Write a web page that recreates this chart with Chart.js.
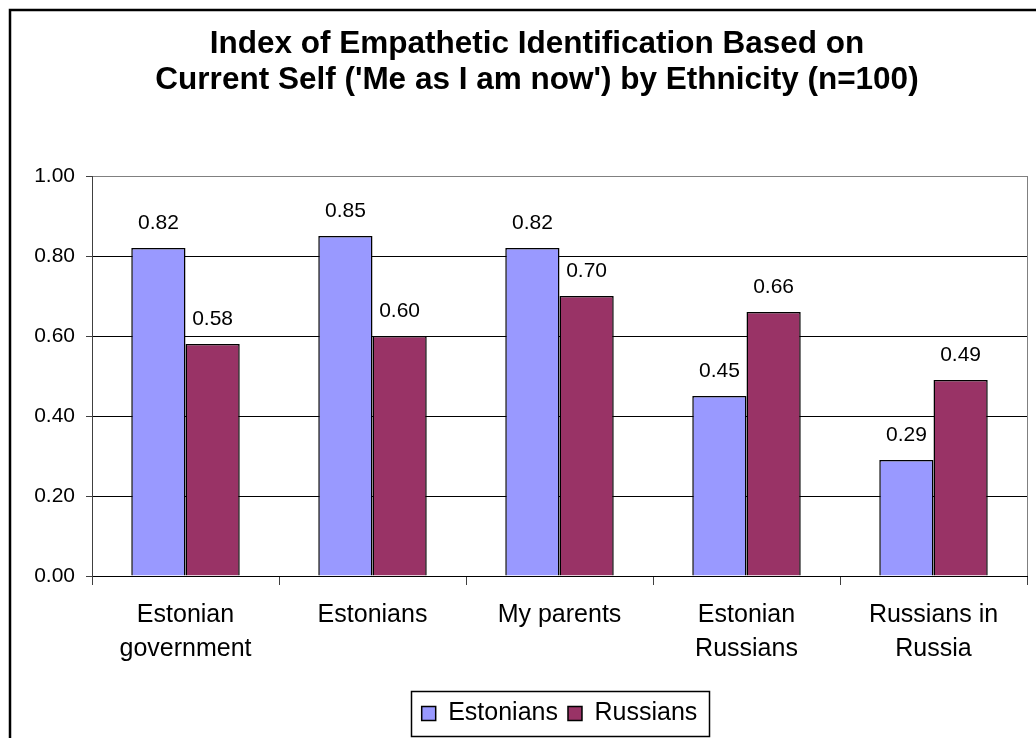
<!DOCTYPE html>
<html>
<head>
<meta charset="utf-8">
<script src="https://cdn.jsdelivr.net/npm/chart.js@4"></script>
<style>
html,body{margin:0;padding:0;background:#fff;}
#wrap{width:1036px;height:738px;position:relative;}
</style>
</head>
<body>
<div id="wrap"><canvas id="c" width="1036" height="738"></canvas></div>
<script>
const categories = [["Estonian","government"],"Estonians","My parents",["Estonian","Russians"],["Russians in","Russia"]];
const estonians = [0.82, 0.85, 0.82, 0.45, 0.29];
const russians = [0.58, 0.60, 0.70, 0.66, 0.49];
const seriesNames = ["Estonians","Russians"];
const titleLines = ["Index of Empathetic Identification Based on","Current Self ('Me as I am now') by Ethnicity (n=100)"];

const FONT = "'Liberation Sans', Arial, sans-serif";

const decor = {
  id: 'decor',
  afterLayout(chart) {
    const a = chart.chartArea;
    const lg = chart.legend;
    if (lg && a) {
      const shift = (a.left + a.right) / 2 - (lg.left + lg.right) / 2;
      lg.left += shift;
      lg.right += shift;
    }
    const tb = chart.titleBlock;
    if (tb) {
      const target = 537;
      const shift = target - (tb.left + tb.right) / 2;
      tb.left += shift;
      tb.right += shift;
    }
  },
  beforeDraw(chart) {
    const ctx = chart.ctx;
    ctx.save();
    ctx.fillStyle = '#fff';
    ctx.fillRect(0,0,chart.width,chart.height);
    ctx.strokeStyle = '#000';
    ctx.lineWidth = 2.5;
    ctx.beginPath();
    ctx.moveTo(10, chart.height);
    ctx.lineTo(10, 10);
    ctx.lineTo(chart.width, 10);
    ctx.stroke();
    ctx.restore();
  },
  afterDraw(chart) {
    const ctx = chart.ctx;
    const a = chart.chartArea;
    ctx.save();
    ctx.strokeStyle = '#808080';
    ctx.lineWidth = 1;
    ctx.beginPath();
    ctx.moveTo(Math.round(a.right)+0.5, a.top);
    ctx.lineTo(Math.round(a.right)+0.5, a.bottom);
    ctx.stroke();
    const lg = chart.legend;
    if (lg && lg.legendHitBoxes && lg.legendHitBoxes.length) {
      const hb = lg.legendHitBoxes;
      let l = Infinity, r = -Infinity, t = Infinity, b = -Infinity;
      hb.forEach(h => { l = Math.min(l,h.left); r = Math.max(r,h.left+h.width); t = Math.min(t,h.top); b = Math.max(b,h.top+h.height); });
      ctx.strokeStyle = '#000';
      ctx.lineWidth = 1.5;
      ctx.strokeRect(Math.round(l-11)+0.5, Math.round(t-10)+0.5, Math.round(r-l+22), Math.round(b-t+20));
    }
    ctx.restore();
  },
  afterDatasetsDraw(chart) {
    const ctx = chart.ctx;
    ctx.save();
    ctx.fillStyle = '#000';
    ctx.font = "21px " + FONT;
    ctx.textAlign = 'center';
    ctx.textBaseline = 'alphabetic';
    chart.data.datasets.forEach((ds, i) => {
      chart.getDatasetMeta(i).data.forEach((bar, j) => {
        ctx.fillText(ds.data[j].toFixed(2), bar.x, bar.y - 19);
      });
    });
    ctx.restore();
  }
};

new Chart(document.getElementById('c'), {
  type: 'bar',
  data: {
    labels: categories,
    datasets: [
      { label: seriesNames[0], data: estonians, backgroundColor: '#9999FF', borderColor: '#000', borderWidth: 1.5 },
      { label: seriesNames[1], data: russians, backgroundColor: '#993366', borderColor: '#000', borderWidth: 1.5 }
    ]
  },
  options: {
    responsive: false,
    animation: false,
    devicePixelRatio: 1,
    layout: { padding: { left: 12, right: 9, top: 26, bottom: 2 } },
    datasets: { bar: { categoryPercentage: 0.58, barPercentage: 1.0 } },
    plugins: {
      title: {
        display: true,
        text: titleLines,
        color: '#000',
        font: { family: FONT, size: 31.5, weight: 'bold', lineHeight: 1.143 },
        padding: { top: 0, bottom: 78 }
      },
      legend: {
        display: true,
        position: 'bottom',
        labels: {
          color: '#000',
          font: { family: FONT, size: 25 },
          boxWidth: 14,
          boxHeight: 14,
          padding: 10,
          generateLabels(chart) {
            return chart.data.datasets.map((ds, i) => ({
              text: ds.label, fillStyle: ds.backgroundColor, strokeStyle: '#000', lineWidth: 1.5, datasetIndex: i, fontColor: '#000'
            }));
          }
        }
      },
      tooltip: { enabled: false }
    },
    scales: {
      x: {
        afterFit(scale) { scale.height = 115; },
        grid: { display: true, offset: true, drawOnChartArea: false, drawTicks: true, tickLength: 9, color: '#404040', tickColor: '#404040' },
        border: { display: true, color: '#000', width: 1 },
        ticks: { color: '#000', font: { family: FONT, size: 25, lineHeight: 1.36 }, padding: 13, maxRotation: 0, autoSkip: false }
      },
      y: {
        min: 0, max: 1,
        afterFit(scale) { scale.width = 80; },
        ticks: { stepSize: 0.2, color: '#000', font: { family: FONT, size: 21 }, padding: 11, callback: v => v.toFixed(2) },
        grid: {
          color: ctx => (ctx.tick && ctx.tick.value >= 0.999) ? '#808080' : '#000',
          tickColor: '#404040',
          tickLength: 6,
          lineWidth: 1
        },
        border: { display: true, color: '#404040', width: 1 }
      }
    }
  },
  plugins: [decor]
});
</script>
</body>
</html>
